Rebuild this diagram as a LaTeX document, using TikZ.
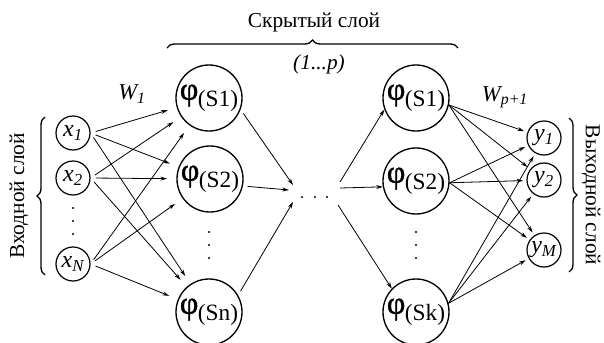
\documentclass[tikz,border=0pt]{standalone}
\usepackage{fontspec}
\setmainfont{Liberation Serif}
\newfontfamily\phifont[FakeBold=1.2]{Liberation Serif}
\usetikzlibrary{arrows.meta,decorations.pathreplacing}
\newcommand\phlabel[1]{{\phifont\fontsize{24}{24}\selectfont φ}\kern-0.3pt{\fontsize{17.5}{17.5}\selectfont\raisebox{-5pt}{(#1)}}}
\tikzset{
  hid/.style={circle,draw,line width=1pt,minimum size=49.5pt,inner sep=0pt},
  io/.style={circle,draw,line width=0.9pt,minimum size=25.5pt,inner sep=0pt,font=\fontsize{18}{18}\selectfont\itshape},
  conn/.style={-{Stealth[length=5pt,width=3pt]},line width=0.6pt},
  lbl/.style={font=\fontsize{16}{16}\selectfont},
  wl/.style={font=\fontsize{17}{17}\selectfont\itshape},
  brc/.style={decorate,line width=1pt,decoration={brace,amplitude=6pt}},
  dot/.style={fill=black}
}
\begin{document}
\begin{tikzpicture}[x=0.75pt,y=-0.75pt]
\useasboundingbox (0,0) rectangle (604,343);
% input
\node[io] (x1) at (73,133) {x\textsubscript{1}};
\node[io] (x2) at (73,178) {x\textsubscript{2}};
\node[io] (xN) at (73,264) {x\textsubscript{N}};
% hidden left
\node[hid] (L1) at (209,98) {\phlabel{S1}};
\node[hid] (L2) at (210,179) {\phlabel{S2}};
\node[hid] (Ln) at (209,312) {\phlabel{Sn}};
% hidden right
\node[hid] (R1) at (416,98) {\phlabel{S1}};
\node[hid] (R2) at (416,181) {\phlabel{S2}};
\node[hid] (Rk) at (416,312) {\phlabel{Sk}};
% outputs
\node[io] (y1) at (544,138) {y\textsubscript{1}};
\node[io] (y2) at (544,180) {y\textsubscript{2}};
\node[io] (yM) at (544,250) {y\textsubscript{M}};
% dots
\foreach \yy in {208,221,234} \fill[dot] (73,\yy) circle (1.1);
\foreach \yy in {232,245,258} {\fill[dot] (209,\yy) circle (1.1); \fill[dot] (416,\yy) circle (1.1);}
\foreach \xx in {302,315,327} \fill[dot] (\xx,197) circle (1.1);
% free ends near the middle dots
\coordinate (m1) at (293,185);
\coordinate (m2) at (289,190);
\coordinate (m3) at (293,202);
\coordinate (n1) at (340,182);
\coordinate (n2) at (340,188);
\coordinate (n3) at (338,205);
% input -> hidden
\foreach \s in {x1,x2,xN}
  \foreach \t in {L1,L2,Ln}
    \draw[conn,shorten <=4pt,shorten >=7pt] (\s.east) -- (\t);
% hidden -> middle
\draw[conn,shorten <=3.5pt] (L1.-20) -- (m1);
\draw[conn,shorten <=3.5pt] (L2.-12) -- (m2);
\draw[conn,shorten <=3.5pt] (Ln.30) -- (m3);
\draw[conn] (n1) -- (R1.200);
\draw[conn] (n2) -- (R2.190);
\draw[conn] (n3) -- (Rk.136);
% hidden -> output
\foreach \s/\a in {R1/-12,R2/-3,Rk/15}
  \foreach \t in {y1,y2,yM}
    \draw[conn,shorten >=2.5pt] (\s.\a) -- (\t);
% weights
\node[wl] (w1) at (132,94) {W\textsubscript{1}};
\node[wl] (wp) at (505,97) {W\textsubscript{p+1}};
% braces and layer labels
\draw[brc] (167,48) -- (458,48);
\node[lbl] (hl) at (314,22) {Скрытый слой};
\node[lbl,font=\fontsize{16}{16}\selectfont\itshape] (hr) at (319,64) {(1...p)};
\draw[brc] (45,275) -- (45,117);
\node[lbl,rotate=90] (il) at (19,196) {Входной слой};
\draw[brc] (569,118) -- (569,272);
\node[lbl,rotate=-90] (ol) at (591,195) {Выходной слой};
\end{tikzpicture}
\end{document}
